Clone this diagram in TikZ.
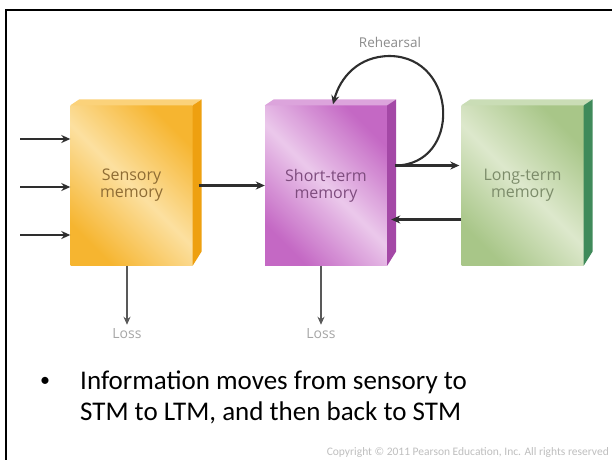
\documentclass[tikz,border=0pt]{standalone}
\usepackage{fontspec}
\setmainfont{Carlito}
\newfontfamily\boxfont{Open Sans}
\usetikzlibrary{arrows.meta}
\definecolor{orbase}{HTML}{F6B530}
\definecolor{orlight}{HTML}{FCE0A0}
\definecolor{orside}{HTML}{EEA010}
\definecolor{ortop}{HTML}{FBD27A}
\definecolor{orlabel}{HTML}{8E6C34}
\definecolor{pubase}{HTML}{C468C4}
\definecolor{pulight}{HTML}{EBC8EB}
\definecolor{puside}{HTML}{A448A6}
\definecolor{putop}{HTML}{DCA4DC}
\definecolor{pulabel}{HTML}{7E4C7E}
\definecolor{grbase}{HTML}{A8C688}
\definecolor{grlight}{HTML}{DDE8CC}
\definecolor{grside}{HTML}{3F8A5A}
\definecolor{grtop}{HTML}{CADDB6}
\definecolor{grlabel}{HTML}{7C8C6A}
\definecolor{arrcol}{HTML}{2E2E2E}
\begin{document}
\begin{tikzpicture}[x=1pt,y=-1pt,
  memfront/.style={minimum width=122pt, minimum height=160pt, inner sep=0pt,
     align=center, font=\boxfont\fontsize{16}{17}\selectfont},
  arr/.style={-{Stealth[length=9pt,width=8pt]}, line width=2.1pt, draw=arrcol},
  lossarr/.style={-{Stealth[length=8pt,width=7pt]}, line width=1.8pt, draw=black!65},
  graylabel/.style={font=\boxfont\fontsize{13.5}{15}\selectfont, text=black!45, inner sep=1pt},
  losslabel/.style={font=\boxfont\fontsize{14}{15}\selectfont, text=black!35, inner sep=1pt}]
\useasboundingbox (0,0) rectangle (612,459);
\fill[white] (0,0) rectangle (612,459);
% frame
\draw[line width=2.2pt, line cap=rect] (6,460) -- (6,10) -- (613,10);

% sensory memory
\node[memfront, left color=orbase, right color=orbase, middle color=orlight, shading angle=135, text=orlabel] (sm) at (131.5,185.5) {Sensory\\memory};
\fill[ortop] (sm.north west) -- ++(9,-6) -- ++(122,0) -- (sm.north east) -- cycle;
\fill[orside] (sm.north east) -- ++(9,-6) -- ++(0,152) -- (sm.south east) -- cycle;

% short-term memory
\node[memfront, left color=pubase, right color=pubase, middle color=pulight, shading angle=135, text=pulabel] (stm) at (326,185.5) {Short-term\\memory};
\fill[putop] (stm.north west) -- ++(9,-6) -- ++(122,0) -- (stm.north east) -- cycle;
\fill[puside] (stm.north east) -- ++(9,-6) -- ++(0,152) -- (stm.south east) -- cycle;

% long-term memory
\node[memfront, left color=grbase, right color=grbase, middle color=grlight, shading angle=135, text=grlabel] (ltm) at (522.5,185.5) {Long-term\\memory};
\fill[grtop] (ltm.north west) -- ++(9,-6) -- ++(122,0) -- (ltm.north east) -- cycle;
\fill[grside] (ltm.north east) -- ++(9,-6) -- ++(0,152) -- (ltm.south east) -- cycle;

% inputs
\coordinate (in1) at (20,139);
\coordinate (in2) at (20,187);
\coordinate (in3) at (20,235);
\draw[arr] (in1) -- (in1 -| sm.west);
\draw[arr] (in2) -- (in2 -| sm.west);
\draw[arr] (in3) -- (in3 -| sm.west);

% flows
\draw[arr] ([shift={(6,0)}]sm.east) -- (stm.west);
\draw[arr] ([shift={(8,-20)}]stm.east) -- ([shift={(-2,-20)}]ltm.west);
\draw[arr] ([shift={(0,34)}]ltm.west) -- ([shift={(4,34)}]stm.east);

% rehearsal
\node[graylabel] (reh) at (390,42) {Rehearsal};
\draw[arr] ([shift={(8,-20)}]stm.east) .. controls (462,165) and (458,57) .. (390,56) .. controls (358,56) and (340,78) .. ([shift={(7,-1)}]stm.north);

% loss
\node[losslabel] (l1) at (127,334) {Loss};
\node[losslabel] (l2) at (321,334) {Loss};
\draw[lossarr] ([shift={(-4.5,0)}]sm.south) -- ([shift={(0,-3)}]l1.north);
\draw[lossarr] ([shift={(-5,0)}]stm.south) -- ([shift={(0,-3)}]l2.north);

% bullet text
\node[font=\fontsize{20}{24}\selectfont, inner sep=0pt] (bul) at (45,382) {•};
\node[anchor=west, align=left, font=\fontsize{27}{31}\selectfont, inner sep=0pt] (txt) at (80,397) {Information moves from sensory to\\STM to LTM, and then back to STM};

% copyright
\node[anchor=base east, font=\fontsize{11.5}{13}\selectfont, text=black!25, inner sep=0pt] (copy) at (609,455) {Copyright © 2011 Pearson Education, Inc. All rights reserved};
\end{tikzpicture}
\end{document}
